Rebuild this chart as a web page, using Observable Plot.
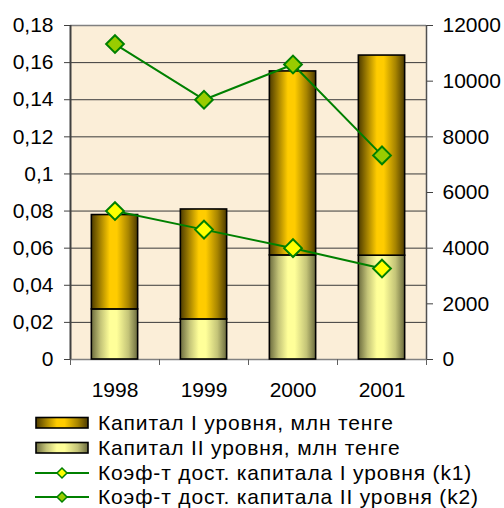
<!DOCTYPE html>
<html>
<head>
<meta charset="utf-8">
<script src="https://cdn.jsdelivr.net/npm/d3@7"></script>
<script src="https://cdn.jsdelivr.net/npm/@observablehq/plot@0.6"></script>
<style>
  body { margin: 0; background: #fff; font-family: Arial, "Liberation Sans", sans-serif; }
  #legend { width: 504px; padding-top: 6px; font-size: 21px; color: #000; letter-spacing: 0.85px; }
  .row { display: flex; align-items: center; height: 24.7px; white-space: nowrap; }
  .row svg { margin-left: 35px; margin-right: 9px; flex: none; }
</style>
</head>
<body>
<div id="chart"></div>
<div id="legend"></div>
<script>
const years = [1998, 1999, 2000, 2001];
const capitalI = [3390, 3950, 6610, 7190];   // Капитал I уровня, млн тенге
const capitalII = [1800, 1440, 3740, 3730];  // Капитал II уровня, млн тенге
const k1 = [0.080, 0.070, 0.060, 0.049];     // Коэф-т дост. капитала I уровня
const k2 = [0.170, 0.140, 0.159, 0.110];     // Коэф-т дост. капитала II уровня
const leftTicks = [0, 0.02, 0.04, 0.06, 0.08, 0.1, 0.12, 0.14, 0.16, 0.18];
const rightTicks = [0, 2000, 4000, 6000, 8000, 10000, 12000];
const labels = [
  "Капитал I уровня, млн тенге",
  "Капитал II уровня, млн тенге",
  "Коэф-т дост. капитала I уровня (k1)",
  "Коэф-т дост. капитала II уровня (k2)"
];

const leftMax = 0.18, rightMax = 12000, ratio = leftMax / rightMax;
const half = 0.26;
const idx = years.map((_, i) => i);
const xLo = years[0] - 0.5, xHi = years[years.length - 1] + 0.5;
const bounds = d3.range(xLo, xHi + 0.01, 1);

const fmtL = d => String(+d.toFixed(2)).replace(".", ",");
const green = "#008000";

const svg = Plot.plot({
  width: 504,
  height: 405,
  marginLeft: 70,
  marginRight: 78,
  marginTop: 25,
  marginBottom: 46,
  style: { fontSize: "21px", fontFamily: "Arial, 'Liberation Sans', sans-serif", background: "#fff", color: "#000", overflow: "visible" },
  x: { type: "linear", domain: [xLo, xHi] },
  y: { domain: [0, leftMax] },
  marks: [
    Plot.frame({ fill: "#fbeed8", stroke: null }),
    Plot.ruleY(leftTicks.slice(1, -1), { stroke: "#3a3a3a", strokeWidth: 1 }),
    Plot.ruleY([leftMax], { stroke: "#808080", strokeWidth: 1.5 }),
    Plot.ruleY([0], { stroke: "#808080", strokeWidth: 1.5 }),
    Plot.rectY(idx, {
      x1: i => years[i] - half, x2: i => years[i] + half,
      y1: 0, y2: i => capitalII[i] * ratio,
      fill: "url(#gradII)", stroke: "#000", strokeWidth: 1.6
    }),
    Plot.rectY(idx, {
      x1: i => years[i] - half, x2: i => years[i] + half,
      y1: i => capitalII[i] * ratio, y2: i => (capitalII[i] + capitalI[i]) * ratio,
      fill: "url(#gradI)", stroke: "#000", strokeWidth: 1.6
    }),
    Plot.ruleX([xLo], { stroke: "#404040", strokeWidth: 2 }),
    Plot.ruleX([xHi], { stroke: "#505050", strokeWidth: 1.5 }),
    Plot.axisY(leftTicks, { anchor: "left", tickSize: 6, tickPadding: 11, tickFormat: fmtL, label: null, stroke: "#404040" }),
    Plot.axisY(rightTicks.map(v => v * ratio), { anchor: "right", tickSize: 6, tickPadding: 10, tickFormat: d => String(Math.round(d / ratio)), label: null, stroke: "#404040" }),
    Plot.axisX(bounds, { anchor: "bottom", tickSize: 6, tickFormat: () => "", label: null, stroke: "#606060" }),
    Plot.axisX(years, { anchor: "bottom", tickSize: 0, tickPadding: 23, tickFormat: d => String(d), label: null }),
    Plot.line(idx, { x: i => years[i], y: i => k1[i], stroke: green, strokeWidth: 2 }),
    Plot.line(idx, { x: i => years[i], y: i => k2[i], stroke: green, strokeWidth: 2 }),
    Plot.dot(idx, { x: i => years[i], y: i => k1[i], symbol: "diamond2", r: 8, fill: "#ffff00", stroke: green, strokeWidth: 2 }),
    Plot.dot(idx, { x: i => years[i], y: i => k2[i], symbol: "diamond2", r: 8, fill: "#99cc00", stroke: green, strokeWidth: 2 })
  ]
});

const defs = d3.select(svg).insert("defs", ":first-child");
function grad(id, stops) {
  const g = defs.append("linearGradient").attr("id", id).attr("x1", 0).attr("x2", 1).attr("y1", 0).attr("y2", 0);
  stops.forEach(([o, c]) => g.append("stop").attr("offset", o).attr("stop-color", c));
}
grad("gradI", [[0, "#4d3b00"], [0.2, "#a88500"], [0.4, "#ffcc00"], [0.55, "#ffcc00"], [0.8, "#a88500"], [1, "#4d3b00"]]);
grad("gradII", [[0, "#6b6b3e"], [0.2, "#c4c478"], [0.4, "#ffff99"], [0.55, "#ffff99"], [0.8, "#c4c478"], [1, "#6b6b3e"]]);

document.getElementById("chart").appendChild(svg);

// legend
const legend = d3.select("#legend");
const swatches = [
  { type: "bar", fill: "url(#gradI)" },
  { type: "bar", fill: "url(#gradII)" },
  { type: "line", fill: "#ffff00" },
  { type: "line", fill: "#99cc00" }
];
labels.forEach((lab, i) => {
  const row = legend.append("div").attr("class", "row");
  const s = row.append("svg").attr("width", 54).attr("height", 14);
  const sw = swatches[i];
  if (sw.type === "bar") {
    s.append("rect").attr("x", 1).attr("y", 1.5).attr("width", 52).attr("height", 10.5)
      .attr("fill", sw.fill).attr("stroke", "#000").attr("stroke-width", 1.6);
  } else {
    s.append("line").attr("x1", 0).attr("x2", 54).attr("y1", 7).attr("y2", 7).attr("stroke", green).attr("stroke-width", 2);
    s.append("path").attr("d", "M27,2L32,7L27,12L22,7Z").attr("fill", sw.fill).attr("stroke", green).attr("stroke-width", 1.5);
  }
  row.append("span").text(lab);
});
</script>
</body>
</html>
